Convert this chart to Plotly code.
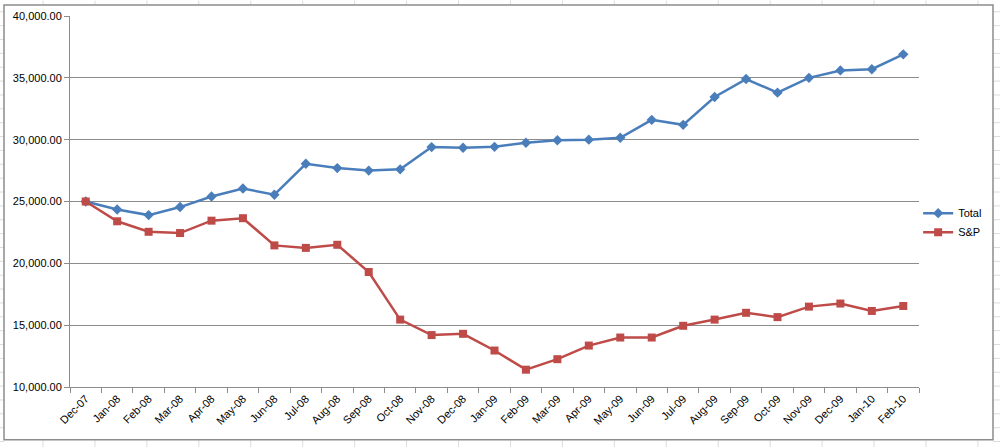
import plotly.graph_objects as go

months = ["Dec-07", "Jan-08", "Feb-08", "Mar-08", "Apr-08", "May-08", "Jun-08", "Jul-08",
          "Aug-08", "Sep-08", "Oct-08", "Nov-08", "Dec-08", "Jan-09", "Feb-09", "Mar-09",
          "Apr-09", "May-09", "Jun-09", "Jul-09", "Aug-09", "Sep-09", "Oct-09", "Nov-09",
          "Dec-09", "Jan-10", "Feb-10"]

total = [25000, 24350, 23900, 24550, 25400, 26050, 25550, 28050, 27700, 27500, 27600,
         29400, 29350, 29420, 29750, 29950, 30000, 30150, 31600, 31200, 33450, 34900,
         33800, 35000, 35600, 35700, 36900]

sp = [25000, 23400, 22550, 22450, 23450, 23650, 21450, 21250, 21500, 19300, 15450,
      14200, 14300, 12950, 11400, 12250, 13350, 14000, 14000, 14950, 15450, 16000,
      15650, 16500, 16750, 16150, 16550]

y_ticks = [10000, 15000, 20000, 25000, 30000, 35000, 40000]

BLUE = "#4A7EBB"
RED = "#BE4B48"
GRID = "#8C8C8C"
SHEET = "#DADCDD"

W, H = 1000, 447
L, R, T, B = 70, 81, 15.5, 60.3
PW, PH = W - L - R, H - T - B


def px(x):
    return (x - L) / PW


def py(y):
    return (H - B - y) / PH


fig = go.Figure()
fig.add_trace(go.Scatter(x=months, y=total, name="Total", mode="lines+markers",
                         line=dict(color=BLUE, width=2.5),
                         marker=dict(symbol="diamond", size=8, color=BLUE)))
fig.add_trace(go.Scatter(x=months, y=sp, name="S&P", mode="lines+markers",
                         line=dict(color=RED, width=2.5),
                         marker=dict(symbol="square", size=8, color=RED)))

# spreadsheet cell grid visible around the chart frame
shapes = []
for k in range(19):
    xx = 43 + 51.94 * k
    shapes.append(dict(type="line", xref="paper", yref="paper", x0=px(xx), x1=px(xx),
                       y0=py(0), y1=py(4), line=dict(color=SHEET, width=1), layer="below"))
    shapes.append(dict(type="line", xref="paper", yref="paper", x0=px(xx), x1=px(xx),
                       y0=py(440), y1=py(447), line=dict(color=SHEET, width=1), layer="below"))
for k in range(33):
    yy = 11.3 + 13.87 * k
    shapes.append(dict(type="line", xref="paper", yref="paper", x0=px(0), x1=px(4),
                       y0=py(yy), y1=py(yy), line=dict(color=SHEET, width=1), layer="below"))
    shapes.append(dict(type="line", xref="paper", yref="paper", x0=px(993), x1=px(1000),
                       y0=py(yy), y1=py(yy), line=dict(color=SHEET, width=1), layer="below"))
shapes.append(dict(type="rect", xref="paper", yref="paper",
                   x0=px(4), x1=px(993), y0=py(439.5), y1=py(4.5),
                   line=dict(color="#8C8C8C", width=1.5), layer="below"))

fig.update_layout(
    width=W, height=H,
    margin=dict(l=L, r=R, t=T, b=B, autoexpand=False),
    paper_bgcolor="white", plot_bgcolor="white",
    font=dict(family="Liberation Sans, Arial, sans-serif", size=11, color="#000000"),
    showlegend=True,
    legend=dict(x=0.999, y=0.443, xanchor="left", yanchor="middle",
                font=dict(size=11), bgcolor="rgba(0,0,0,0)", tracegroupgap=0,
                itemwidth=30),
    xaxis=dict(type="category", range=[-0.5, 26.5], tickangle=-45,
               tickson="boundaries", ticks="outside", ticklen=5, tickcolor=GRID,
               showline=True, linecolor=GRID, linewidth=1, showgrid=False,
               tickfont=dict(size=11)),
    yaxis=dict(range=[10000, 40000], tickvals=y_ticks, tickformat=",.2f",
               ticks="outside", ticklen=5, tickcolor=GRID,
               showline=True, linecolor=GRID, linewidth=1,
               showgrid=True, gridcolor=GRID, gridwidth=1, zeroline=False,
               tickfont=dict(size=11)),
    shapes=shapes,
)

fig.write_html("out.html", config={"displayModeBar": False},
               post_script="document.body.style.margin='0px';")
